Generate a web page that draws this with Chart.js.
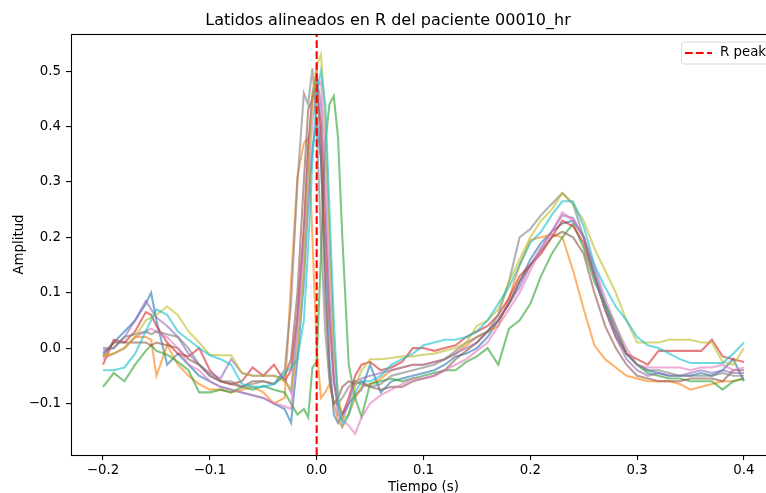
<!DOCTYPE html>
<html>
<head>
<meta charset="utf-8">
<script src="https://cdn.jsdelivr.net/npm/chart.js@4.4.1/dist/chart.umd.min.js"></script>
<style>
  html, body { margin: 0; padding: 0; background: #fff; }
  #wrap { width: 766px; height: 493px; overflow: hidden; position: relative; }
  canvas { display: block; }
</style>
</head>
<body>
<div id="wrap"><canvas id="myChart" width="800" height="493"></canvas></div>
<script>
// time axis (s), shared by every beat; denser around the QRS complex
var tiempo = [
  -0.200, -0.190, -0.180, -0.170, -0.160, -0.155, -0.150, -0.140, -0.130, -0.120,
  -0.110, -0.100, -0.090, -0.080, -0.070, -0.060, -0.050, -0.040, -0.030, -0.024,
  -0.018, -0.012, -0.008, -0.004, 0.000, 0.004, 0.008, 0.012, 0.016, 0.020,
  0.024, 0.030, 0.036, 0.042, 0.050, 0.060, 0.070, 0.080, 0.090, 0.100,
  0.110, 0.120, 0.130, 0.140, 0.150, 0.160, 0.170, 0.180, 0.190, 0.200,
  0.210, 0.220, 0.230, 0.240, 0.250, 0.260, 0.270, 0.280, 0.290, 0.300,
  0.310, 0.320, 0.330, 0.340, 0.350, 0.360, 0.370, 0.380, 0.390, 0.400
];

var latido1 = [
  -0.01, 0.01, 0.03, 0.05, 0.08, 0.10, 0.05, -0.03, -0.01, -0.03,
  -0.05, -0.06, -0.07, -0.075, -0.08, -0.085, -0.09, -0.10, -0.11, -0.135,
  -0.02, 0.12, 0.26, 0.36, 0.41, 0.34, 0.15, -0.02, -0.12, -0.135,
  -0.12, -0.10, -0.085, -0.075, -0.03, -0.08, -0.06, -0.055, -0.05, -0.045,
  -0.04, -0.03, -0.015, -0.01, 0.0, 0.02, 0.05, 0.08, 0.12, 0.16,
  0.19, 0.21, 0.225, 0.23, 0.20, 0.14, 0.08, 0.03, -0.01, -0.03,
  -0.04, -0.045, -0.05, -0.05, -0.05, -0.045, -0.05, -0.04, -0.02, -0.06
];
var latido2 = [
  -0.015, -0.01, 0.0, 0.02, 0.02, 0.015, -0.05, 0.005, -0.03, -0.05,
  -0.065, -0.075, -0.075, -0.08, -0.075, -0.07, -0.08, -0.10, -0.09, 0.12,
  0.31, 0.37, 0.38, 0.20, 0.0, -0.09, -0.08, -0.065, -0.10, -0.13,
  -0.143, -0.12, -0.09, -0.07, -0.065, -0.055, -0.04, -0.035, -0.03, -0.03,
  -0.025, -0.02, -0.01, 0.005, 0.02, 0.03, 0.04, 0.09, 0.15, 0.195,
  0.20, 0.205, 0.20, 0.14, 0.07, 0.005, -0.02, -0.035, -0.05, -0.055,
  -0.06, -0.06, -0.06, -0.065, -0.075, -0.07, -0.065, -0.06, -0.06, -0.055
];
var latido3 = [
  -0.07, -0.045, -0.06, -0.03, -0.005, 0.005, -0.005, -0.012, -0.025, -0.04,
  -0.08, -0.08, -0.075, -0.08, -0.07, -0.075, -0.068, -0.075, -0.08, -0.10,
  -0.12, -0.11, -0.125, -0.035, -0.025, 0.17, 0.37, 0.44, 0.455, 0.38,
  0.20, -0.03, -0.09, -0.124, -0.065, -0.06, -0.055, -0.06, -0.055, -0.05,
  -0.045, -0.04, -0.04, -0.025, -0.015, 0.0, -0.03, 0.035, 0.05, 0.08,
  0.13, 0.17, 0.20, 0.225, 0.18, 0.12, 0.08, 0.04, -0.01, -0.03,
  -0.045, -0.05, -0.055, -0.055, -0.06, -0.06, -0.06, -0.075, -0.06, -0.055
];
var latido4 = [
  -0.03, 0.015, 0.01, 0.03, 0.065, 0.06, 0.04, 0.01, -0.01, -0.015,
  0.0, -0.04, -0.06, -0.065, -0.06, -0.035, -0.05, -0.03, -0.06, -0.04,
  0.06, 0.22, 0.36, 0.45, 0.47, 0.40, 0.22, 0.05, -0.06, -0.10,
  -0.12, -0.09, -0.05, -0.03, -0.025, -0.04, -0.035, -0.025, 0.0, 0.0,
  -0.005, 0.0, 0.005, 0.02, 0.03, 0.04, 0.06, 0.09, 0.13, 0.15,
  0.17, 0.20, 0.23, 0.22, 0.19, 0.13, 0.07, 0.02, -0.01, -0.02,
  -0.03, -0.005, -0.005, -0.005, -0.005, -0.005, 0.015, -0.015, -0.02, -0.025
];
var latido5 = [
  -0.005, 0.0, 0.02, 0.05, 0.085, 0.07, 0.055, 0.04, 0.02, -0.01,
  -0.03, -0.045, -0.055, -0.02, -0.045, -0.05, -0.05, -0.05, -0.055, -0.08,
  0.05, 0.20, 0.36, 0.46, 0.49, 0.44, 0.28, 0.09, -0.05, -0.12,
  -0.13, -0.10, -0.06, -0.055, -0.05, -0.045, -0.04, -0.035, -0.03, -0.03,
  -0.025, -0.02, -0.01, 0.0, 0.01, 0.03, 0.05, 0.08, 0.11, 0.15,
  0.18, 0.21, 0.24, 0.235, 0.20, 0.13, 0.07, 0.02, -0.02, -0.04,
  -0.05, -0.045, -0.05, -0.05, -0.045, -0.04, -0.045, -0.04, -0.045, -0.045
];
var latido6 = [
  -0.015, 0.01, 0.01, 0.01, 0.01, 0.005, 0.01, 0.005, 0.0, -0.02,
  -0.03, -0.05, -0.06, -0.065, -0.07, -0.06, -0.06, -0.065, -0.05, -0.02,
  0.10, 0.30, 0.43, 0.45, 0.50, 0.35, 0.10, -0.05, -0.10, -0.09,
  -0.07, -0.06, -0.065, -0.06, -0.07, -0.075, -0.07, -0.07, -0.06, -0.055,
  -0.05, -0.04, -0.02, -0.005, 0.01, 0.03, 0.05, 0.08, 0.12, 0.15,
  0.175, 0.20, 0.21, 0.20, 0.17, 0.10, 0.04, 0.0, -0.03, -0.05,
  -0.055, -0.06, -0.06, -0.06, -0.055, -0.055, -0.055, -0.06, -0.04, -0.04
];
var latido7 = [
  -0.02, -0.01, 0.0, 0.02, 0.03, 0.035, 0.03, 0.02, 0.0, -0.03,
  -0.04, -0.06, -0.07, -0.075, -0.08, -0.085, -0.09, -0.10, -0.105, -0.11,
  0.02, 0.16, 0.30, 0.41, 0.47, 0.48, 0.36, 0.18, 0.0, -0.10,
  -0.13, -0.14, -0.155, -0.125, -0.10, -0.085, -0.075, -0.065, -0.055, -0.055,
  -0.05, -0.04, -0.03, -0.02, -0.005, 0.01, 0.04, 0.07, 0.10, 0.14,
  0.18, 0.21, 0.245, 0.23, 0.20, 0.15, 0.09, 0.04, 0.0, -0.03,
  -0.035, -0.035, -0.035, -0.035, -0.04, -0.035, -0.035, -0.03, -0.04, -0.035
];
var latido8 = [
  0.0, 0.0, 0.02, 0.025, 0.03, 0.025, 0.03, 0.025, 0.02, 0.0,
  -0.03, -0.05, -0.06, -0.06, -0.07, -0.065, -0.06, -0.065, -0.04, 0.08,
  0.30, 0.46, 0.44, 0.505, 0.40, 0.20, 0.03, -0.06, -0.10, -0.10,
  -0.09, -0.07, -0.06, -0.065, -0.07, -0.065, -0.05, -0.045, -0.04, -0.035,
  -0.03, -0.02, -0.005, 0.01, 0.02, 0.03, 0.06, 0.12, 0.20, 0.215,
  0.24, 0.26, 0.28, 0.26, 0.20, 0.13, 0.07, 0.03, -0.01, -0.03,
  -0.04, -0.04, -0.045, -0.05, -0.05, -0.05, -0.05, -0.045, -0.05, -0.05
];
var latido9 = [
  -0.015, -0.01, 0.0, 0.02, 0.05, 0.055, 0.06, 0.075, 0.06, 0.03,
  0.01, -0.012, -0.013, -0.013, -0.045, -0.05, -0.05, -0.05, -0.06, -0.075,
  0.0, 0.14, 0.32, 0.45, 0.51, 0.53, 0.42, 0.20, 0.0, -0.08,
  -0.13, -0.12, -0.07, -0.04, -0.02, -0.02, -0.018, -0.015, -0.015, -0.012,
  -0.01, -0.005, 0.0, 0.01, 0.04, 0.05, 0.07, 0.12, 0.16, 0.20,
  0.23, 0.25, 0.28, 0.26, 0.23, 0.18, 0.14, 0.10, 0.05, 0.01,
  0.01, 0.01, 0.015, 0.015, 0.015, 0.01, 0.01, -0.025, -0.03, 0.0
];
var latido10 = [
  -0.04, -0.04, -0.035, -0.01, 0.03, 0.05, 0.07, 0.06, 0.03, 0.015,
  0.0, -0.013, -0.02, -0.03, -0.065, -0.07, -0.07, -0.065, -0.045, -0.035,
  -0.02, 0.05, 0.18, 0.34, 0.46, 0.50, 0.44, 0.25, 0.05, -0.10,
  -0.14, -0.12, -0.08, -0.06, -0.06, -0.05, -0.03, -0.02, -0.01, 0.005,
  0.01, 0.015, 0.015, 0.02, 0.03, 0.05, 0.08, 0.11, 0.15, 0.19,
  0.21, 0.24, 0.265, 0.265, 0.22, 0.15, 0.11, 0.075, 0.05, 0.02,
  0.005, 0.0, -0.01, -0.02, -0.027, -0.027, -0.027, -0.027, -0.01, 0.01
];

var latidos = [latido1, latido2, latido3, latido4, latido5,
               latido6, latido7, latido8, latido9, latido10];

// matplotlib tab10 cycle
var colores = ['#1f77b4', '#ff7f0e', '#2ca02c', '#d62728', '#9467bd',
               '#8c564b', '#e377c2', '#7f7f7f', '#bcbd22', '#17becf'];

var rPeakTime = 0.0;

var xRange = [-0.23, 0.43];
var yRange = [-0.193, 0.567];
var xTicks = [-0.2, -0.1, 0.0, 0.1, 0.2, 0.3, 0.4];
var xTickLabels = ['\u22120.2', '\u22120.1', '0.0', '0.1', '0.2', '0.3', '0.4'];
var yTicks = [-0.1, 0.0, 0.1, 0.2, 0.3, 0.4, 0.5];
var yTickLabels = ['\u22120.1', '0.0', '0.1', '0.2', '0.3', '0.4', '0.5'];

function hexAlpha(hex, a) {
    var r = parseInt(hex.slice(1, 3), 16),
        g = parseInt(hex.slice(3, 5), 16),
        b = parseInt(hex.slice(5, 7), 16);
    return 'rgba(' + r + ',' + g + ',' + b + ',' + a + ')';
}

var FONT = "'DejaVu Sans', sans-serif";

var datasets = [{
    label: 'R peak',
    data: [{ x: rPeakTime, y: yRange[0] }, { x: rPeakTime, y: yRange[1] }],
    borderColor: '#ff0000',
    borderWidth: 2.08,
    borderDash: [7.7, 3.3],
    pointRadius: 0,
    order: 0
}];
latidos.forEach(function(vals, i) {
    datasets.push({
        label: 'Latido ' + (i + 1),
        data: tiempo.map(function(t, j) { return { x: t, y: vals[j] }; }),
        borderColor: hexAlpha(colores[i], 0.6),
        borderWidth: 2.08,
        pointRadius: 0,
        tension: 0,
        fill: false,
        order: 20 - i
    });
});

// axes frame on all four sides
var framePlugin = {
    id: 'frame',
    afterDatasetsDraw: function(chart) {
        var a = chart.chartArea, ctx = chart.ctx;
        ctx.save();
        ctx.strokeStyle = '#000';
        ctx.lineWidth = 1.1;
        ctx.strokeRect(a.left + 0.5, a.top + 0.5, a.right - a.left, a.bottom - a.top);
        ctx.restore();
    }
};

// matplotlib-like legend box in the upper right corner
var legendPlugin = {
    id: 'boxLegend',
    afterDraw: function(chart) {
        var a = chart.chartArea, ctx = chart.ctx;
        var ds = chart.data.datasets[0];
        var w = 88, h = 22;
        var x0 = a.right - 7 - w, y0 = a.top + 7.5;
        ctx.save();
        ctx.beginPath();
        ctx.roundRect(x0 + 0.5, y0 + 0.5, w, h, 3);
        ctx.fillStyle = 'rgba(255,255,255,0.8)';
        ctx.fill();
        ctx.strokeStyle = '#d9d9d9';
        ctx.lineWidth = 1;
        ctx.stroke();
        var cy = y0 + h / 2 + 0.5;
        ctx.beginPath();
        ctx.setLineDash(ds.borderDash);
        ctx.strokeStyle = ds.borderColor;
        ctx.lineWidth = ds.borderWidth;
        ctx.moveTo(x0 + 4, cy);
        ctx.lineTo(x0 + 31, cy);
        ctx.stroke();
        ctx.setLineDash([]);
        ctx.fillStyle = '#000';
        ctx.font = '13.33px ' + FONT;
        ctx.textBaseline = 'middle';
        ctx.fillText(ds.label, x0 + 39, cy);
        ctx.restore();
    }
};

var ctx = document.getElementById('myChart').getContext('2d');
var myChart = new Chart(ctx, {
    type: 'line',
    data: { datasets: datasets },
    options: {
        responsive: false,
        animation: false,
        devicePixelRatio: 1,
        layout: { padding: { left: 0, right: 24, top: 0, bottom: 0 } },
        plugins: {
            legend: { display: false },
            tooltip: { enabled: false },
            title: {
                display: true,
                text: 'Latidos alineados en R del paciente 00010_hr',
                color: '#000',
                font: { family: FONT, size: 16, weight: 'normal', lineHeight: 1.2 },
                padding: { top: 11.5, bottom: 3.3 }
            }
        },
        scales: {
            x: {
                type: 'linear',
                min: xRange[0],
                max: xRange[1],
                afterBuildTicks: function(scale) {
                    scale.ticks = xTicks.map(function(v) { return { value: v }; });
                },
                afterFit: function(scale) { scale.height = 38; },
                border: { display: false },
                grid: { drawOnChartArea: false, drawTicks: true, tickLength: 5, color: '#000', lineWidth: 1.1 },
                ticks: {
                    color: '#000',
                    padding: 3,
                    maxRotation: 0,
                    autoSkip: false,
                    font: { family: FONT, size: 13.33 },
                    callback: function(v, i) { return xTickLabels[i]; }
                },
                title: {
                    display: true,
                    text: 'Tiempo (s)',
                    color: '#000',
                    font: { family: FONT, size: 13.33, lineHeight: 1 },
                    padding: { top: 0, bottom: -1 }
                }
            },
            y: {
                type: 'linear',
                min: yRange[0],
                max: yRange[1],
                afterBuildTicks: function(scale) {
                    scale.ticks = yTicks.map(function(v) { return { value: v }; });
                },
                afterFit: function(scale) { scale.width = 71; },
                border: { display: false },
                grid: { drawOnChartArea: false, drawTicks: true, tickLength: 5, color: '#000', lineWidth: 1.1 },
                ticks: {
                    color: '#000',
                    padding: 5,
                    autoSkip: false,
                    font: { family: FONT, size: 13.33 },
                    callback: function(v, i) { return yTickLabels[i]; }
                },
                title: {
                    display: true,
                    text: 'Amplitud',
                    color: '#000',
                    font: { family: FONT, size: 13.33, lineHeight: 1.2 },
                    padding: { top: 12, bottom: 0 }
                }
            }
        }
    },
    plugins: [framePlugin, legendPlugin]
});
</script>
</body>
</html>
